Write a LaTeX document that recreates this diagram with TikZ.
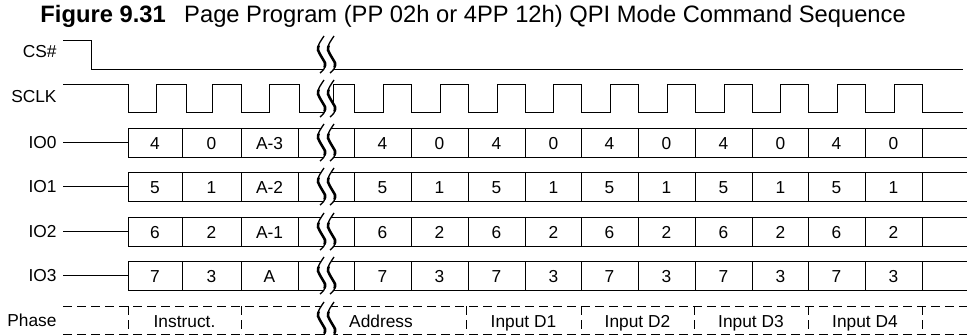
\documentclass[tikz,border=0pt]{standalone}
\usepackage{fontspec}
\setmainfont{Liberation Sans}
\begin{document}
\begin{tikzpicture}[x=0.75pt,y=-0.75pt,line width=0.7pt,
  lbl/.style={anchor=base east,inner sep=0pt,font=\fontsize{13}{15}\selectfont},
  txt/.style={anchor=base,inner sep=0pt,font=\fontsize{13}{15}\selectfont},
  phase/.style={dash pattern=on 6.4pt off 4.1pt},
  brk/.style={line width=1pt},
  brkmid/.style={line width=1.9pt,line cap=round}]
  \useasboundingbox (0,0) rectangle (967,335);
  \node[anchor=base west,inner sep=0pt,font=\fontsize{17.8}{20}\selectfont] (title) at (40,23)
    {\textbf{Figure 9.31}\hspace{0.5em} Page Program (PP 02h or 4PP 12h) QPI Mode Command Sequence};
  \node[lbl] (cs) at (57,58) {CS\#};
  \draw (63,40)--(91,40)--(91,69)--(963,69);
  \node[lbl] (sclk) at (57,103) {SCLK};
  \draw (63,84)--(128,84)--(128,112)--(156,112)--(156,84)--(186,84)--(186,112)--(212,112)--(212,84)
    --(241,84)--(241,112)--(269,112)--(269,84)--(299,84)--(299,112)--(333,112)--(333,84)--(354,84)--(354,112)
    foreach \f in {411,468,525,581,638,695,752,808,865,922}{--(\f-28,112)--(\f-28,84)--(\f,84)--(\f,112)}
    --(963,112);
  \foreach \i/\t in {0/128,1/172,2/217,3/261}{
    \node[lbl] (io\i) at (57,\t+20.5) {IO\i};
    \draw (63,\t+14.5)--(128,\t+14.5);
    \draw (967,\t)--(128,\t)--(128,\t+29)--(967,\t+29);
    \foreach \x in {182,241,298,354,411,468,525,581,638,695,752,808,865,922}
      \draw (\x,\t)--(\x,\t+29);
  }
  \foreach \i/\t/\p/\q/\a in {0/128/4/0/A-3,1/172/5/1/A-2,2/217/6/2/A-1,3/261/7/3/A}{
    \node[txt] (d\i a) at (155,\t+21) {\p};
    \node[txt] (d\i b) at (211.5,\t+21) {\q};
    \node[txt] (d\i c) at (269.5,\t+21) {\a};
    \foreach \x [count=\k] in {382.5,496.5,609.5,723.5,836.5}{
      \node[txt] (d\i p\k) at (\x,\t+21) {\p};
      \node[txt] (d\i q\k) at (\x+57,\t+21) {\q};
    }
  }
  \node[lbl] (phase) at (57,326) {Phase};
  \draw[phase] (63,306)--(967,306) (63,334)--(967,334);
  \foreach \x in {128,241,466,581,694,808,922}
    \draw[phase] (\x,306)--(\x,334);
  \node[txt] (instr) at (184.5,327) {Instruct.};
  \node[txt] (addr) at (381,327) {Address};
  \foreach \x [count=\k] in {523.5,637.5,751,865}
    \node[txt] (in\k) at (\x,327) {Input D\k};
  \foreach \t in {40,84,128,172,217,261,306}{
    \fill[white] plot[smooth] coordinates {(324,\t-4) (319,\t+4) (318,\t+10) (321,\t+16) (325,\t+23) (324,\t+29) (320,\t+33)}
      -- plot[smooth] coordinates {(330,\t+33) (334,\t+29) (335,\t+23) (331,\t+16) (328,\t+10) (329,\t+4) (334,\t-4)} -- cycle;
    \foreach \d in {0,10}{
      \draw[brk] plot[smooth] coordinates {(324+\d,\t-4) (319+\d,\t+4) (318+\d,\t+10) (321+\d,\t+16) (325+\d,\t+23) (324+\d,\t+29) (320+\d,\t+33)};
      \draw[brkmid] plot[smooth] coordinates {(318.6+\d,\t+6) (318+\d,\t+10) (321+\d,\t+16) (325+\d,\t+23) (324.6+\d,\t+27)};
    }
  }
\end{tikzpicture}
\end{document}
